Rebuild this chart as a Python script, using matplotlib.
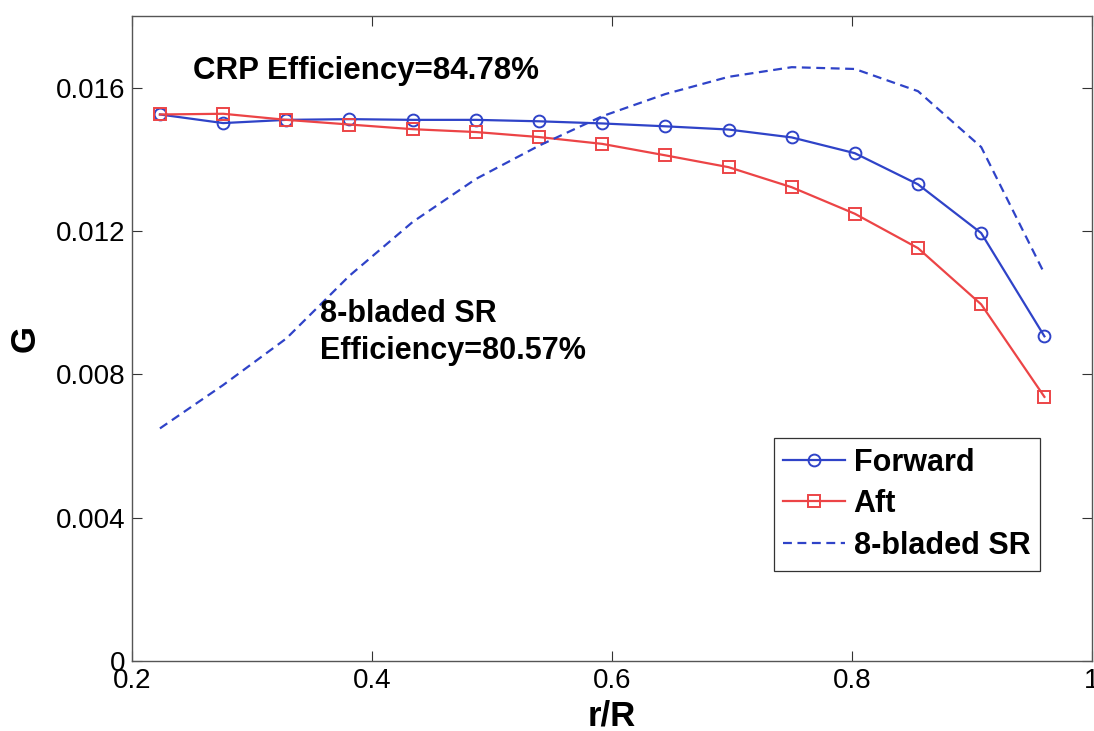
import numpy as np
import matplotlib
matplotlib.use("Agg")
import matplotlib.pyplot as plt

plt.rcParams['font.family'] = ['Liberation Sans', 'DejaVu Sans']

# radial stations r/R
r = [0.2229, 0.2756, 0.3283, 0.3809, 0.4336, 0.4863, 0.5390, 0.5916,
     0.6443, 0.6970, 0.7497, 0.8023, 0.8550, 0.9077, 0.9604]

# circulation G along the blade
G_forward = [0.01525, 0.01501, 0.01510, 0.01512, 0.01510, 0.01510, 0.01506,
             0.01500, 0.01492, 0.01483, 0.01461, 0.01417, 0.01330, 0.01194,
             0.00906]
G_aft = [0.01525, 0.01527, 0.01510, 0.01497, 0.01484, 0.01476, 0.01462,
         0.01443, 0.01411, 0.01378, 0.01322, 0.01248, 0.01152, 0.00995,
         0.00737]
G_sr8 = [0.00649, 0.00770, 0.00900, 0.01075, 0.01225, 0.01345, 0.01438,
         0.01520, 0.01582, 0.01630, 0.01657, 0.01652, 0.01590, 0.01434,
         0.01081]

blue = '#2f43c8'
red = '#ec4446'

fig = plt.figure(figsize=(10.94, 7.31), dpi=100)
ax = fig.add_axes([0.1211, 0.0958, 0.8770, 0.8824])

ax.plot(r, G_forward, '-', color=blue, lw=1.6, marker='o', ms=8.5,
        mfc='none', mec=blue, mew=1.4, label='Forward')
ax.plot(r, G_aft, '-', color=red, lw=1.6, marker='s', ms=8.5,
        mfc='none', mec=red, mew=1.4, label='Aft')
ax.plot(r, G_sr8, '--', color=blue, lw=1.6, dashes=(4, 2.5),
        label='8-bladed SR')

ax.set_xlim(0.2, 1.0)
ax.set_ylim(0, 0.018)
ax.set_xticks([0.2, 0.4, 0.6, 0.8, 1.0])
ax.set_xticklabels(['0.2', '0.4', '0.6', '0.8', '1'])
ax.set_yticks([0, 0.004, 0.008, 0.012, 0.016])
ax.set_yticklabels(['0', '0.004', '0.008', '0.012', '0.016'])
ax.tick_params(direction='in', length=7, width=0.8, top=True, right=True,
               labelsize=20, pad=5, colors='#333333', labelcolor='black')
for s in ax.spines.values():
    s.set_color('#555555')
    s.set_linewidth(1.0)

ax.set_xlabel('r/R', fontsize=25, fontweight='bold', labelpad=4)
ax.set_ylabel('G', fontsize=25, fontweight='bold', labelpad=10)

ax.text(0.2503, 0.01647, 'CRP Efficiency=84.78%', fontsize=22.5,
        fontweight='bold', va='center', ha='left')
ax.text(0.356, 0.00916, '8-bladed SR\nEfficiency=80.57%', fontsize=22,
        fontweight='bold', va='center', ha='left', linespacing=1.28)

leg = ax.legend(loc='upper right', bbox_to_anchor=(0.946, 0.346),
                prop={'weight': 'bold', 'size': 22},
                fancybox=False, framealpha=1, edgecolor='#333333',
                handlelength=2.0, handletextpad=0.3, borderpad=0.32,
                labelspacing=0.38, borderaxespad=0)
leg.get_frame().set_linewidth(0.9)

fig.savefig('out.png', dpi=100)
